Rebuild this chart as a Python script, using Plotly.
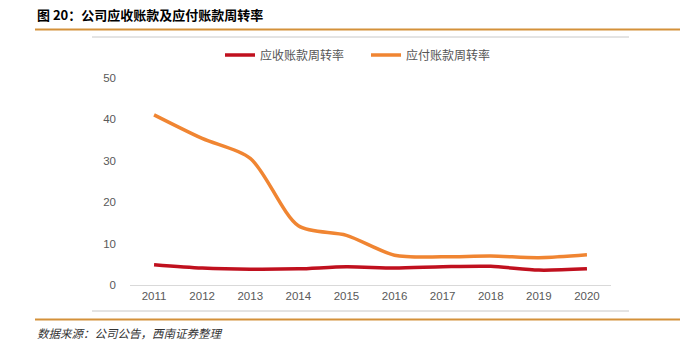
import plotly.graph_objects as go

years = ["2011", "2012", "2013", "2014", "2015", "2016", "2017", "2018", "2019", "2020"]
receivable_turnover = [4.9, 4.1, 3.8, 3.9, 4.4, 4.1, 4.4, 4.5, 3.6, 3.9]
payable_turnover = [41.1, 35.4, 30.6, 14.3, 12.0, 7.2, 6.8, 7.0, 6.6, 7.3]
series_names = ["应收账款周转率", "应付账款周转率"]
y_ticks = [0, 10, 20, 30, 40, 50]

W, H = 680, 354
L, R, T, B = 130, 69, 78, 69
PW = W - L - R
PH = H - T - B

def px(x):
    return (x - L) / PW

def py(y):
    return (H - B - y) / PH

fig = go.Figure()
fig.add_trace(go.Scatter(x=years, y=receivable_turnover, name=series_names[0], mode="lines",
                         line=dict(color="#C0101E", width=3.5, shape="spline", smoothing=0.8)))
fig.add_trace(go.Scatter(x=years, y=payable_turnover, name=series_names[1], mode="lines",
                         line=dict(color="#F08532", width=3.5, shape="spline", smoothing=0.8)))

font_cjk = "Noto Sans CJK SC, Noto Sans, sans-serif"

fig.update_layout(
    width=W, height=H,
    margin=dict(l=L, r=R, t=T, b=B, pad=0),
    paper_bgcolor="white", plot_bgcolor="white",
    showlegend=True,
    legend=dict(orientation="h", x=px(220), xanchor="left", y=py(55), yanchor="middle",
                font=dict(family=font_cjk, size=12, color="#555555"),
                itemwidth=30, entrywidth=101, entrywidthmode="pixels",
                tracegroupgap=0, bgcolor="rgba(0,0,0,0)"),
    xaxis=dict(type="category", range=[-0.5, 9.5], showgrid=False, showline=True,
               linecolor="#D9D9D9", linewidth=1, ticks="", zeroline=False,
               tickfont=dict(family="Liberation Sans, Arial, sans-serif", size=11.5, color="#595959")),
    yaxis=dict(range=[0, 50], tickvals=y_ticks, showgrid=False, showline=False, zeroline=False,
               ticks="", ticklabelstandoff=13,
               tickfont=dict(family="Liberation Sans, Arial, sans-serif", size=11.5, color="#595959")),
    font=dict(family=font_cjk),
)

shapes = []
# top and bottom orange rules
for yy in (29.5, 319.5):
    shapes.append(dict(type="line", xref="paper", yref="paper", x0=px(35), x1=px(680), y0=py(yy), y1=py(yy),
                       line=dict(color="#D4913A", width=2)))
# chart box gray lines
for yy in (37, 311):
    shapes.append(dict(type="line", xref="paper", yref="paper", x0=px(92), x1=px(629), y0=py(yy), y1=py(yy),
                       line=dict(color="#C8C8C8", width=1)))
fig.update_layout(shapes=shapes)

fig.add_annotation(text="<b>图 20：公司应收账款及应付账款周转率</b>", xref="paper", yref="paper",
                   x=px(35), y=py(15), xanchor="left", yanchor="middle", showarrow=False,
                   font=dict(family=font_cjk, size=13, color="#000000"))
fig.add_annotation(text="<i>数据来源：公司公告，西南证券整理</i>", xref="paper", yref="paper",
                   x=px(35), y=py(333), xanchor="left", yanchor="middle", showarrow=False,
                   font=dict(family=font_cjk, size=11.5, color="#333333"))

fig.write_html("out.html")
